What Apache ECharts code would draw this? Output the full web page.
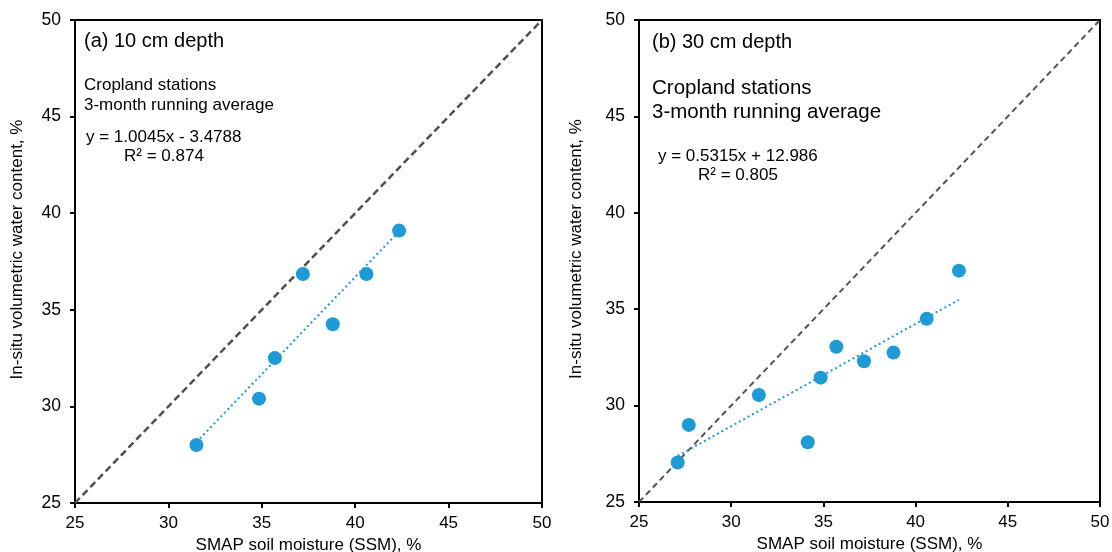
<!DOCTYPE html>
<html>
<head>
<meta charset="utf-8">
<script src="https://cdn.jsdelivr.net/npm/echarts@6/dist/echarts.min.js"></script>
<style>
html,body{margin:0;padding:0;background:#fff;}
#c{width:1112px;height:552px;}
</style>
</head>
<body>
<div id="c"></div>
<script>
// ---- data ----
const ssm10 = [31.5, 34.85, 35.7, 37.2, 38.8, 40.6, 42.35];
const vwc10 = [28.0, 30.4, 32.5, 36.85, 34.25, 36.85, 39.1];
const trendX10 = [31.5, 42.35];
const trendY10 = [28.15, 39.06];

const ssm30 = [27.1, 27.7, 31.5, 34.15, 34.85, 35.7, 37.2, 38.8, 40.6, 42.35];
const vwc30 = [27.05, 29.0, 30.55, 28.1, 31.45, 33.05, 32.3, 32.75, 34.5, 37.0];
const trendX30 = [27.1, 42.35];
const trendY30 = [27.39, 35.49];

const oneToOne = [25, 50];
const tickValues = [25, 30, 35, 40, 45, 50];

const xTitle = 'SMAP soil moisture (SSM), %';
const yTitle = 'In-situ volumetric water content, %';
const labelsA = ['(a) 10 cm depth', 'Cropland stations', '3-month running average', 'y = 1.0045x - 3.4788', 'R² = 0.874'];
const labelsB = ['(b) 30 cm depth', 'Cropland stations', '3-month running average', 'y = 0.5315x + 12.986', 'R² = 0.805'];

const FONT = '"Liberation Sans", Arial, Helvetica, sans-serif';
const BLUE = '#1E9AD6';
const zip = (a, b) => a.map((v, i) => [v, b[i]]);

function xAxisFor(idx) {
  return {
    gridIndex: idx, type: 'value', min: tickValues[0], max: tickValues[tickValues.length - 1], interval: 5,
    name: xTitle, nameLocation: 'middle', nameGap: 32,
    nameTextStyle: {fontFamily: FONT, fontSize: 17, color: '#000'},
    axisLine: {show: true, onZero: false, lineStyle: {color: '#000', width: 2}},
    axisTick: {show: true, inside: false, length: 5, lineStyle: {color: '#000', width: 2}},
    axisLabel: {fontFamily: FONT, fontSize: 17, color: '#000', margin: 12},
    splitLine: {show: false}
  };
}
function yAxisFor(idx, gap) {
  return {
    gridIndex: idx, type: 'value', min: tickValues[0], max: tickValues[tickValues.length - 1], interval: 5,
    name: yTitle, nameLocation: 'middle', nameGap: gap, nameRotate: 90,
    nameTextStyle: {fontFamily: FONT, fontSize: 17, color: '#000', padding: [0, 0, 0, 24]},
    axisLine: {show: true, onZero: false, lineStyle: {color: '#000', width: 2}},
    axisTick: {show: true, inside: false, length: 5, lineStyle: {color: '#000', width: 2}},
    axisLabel: {fontFamily: FONT, fontSize: 17.5, color: '#000', margin: 14},
    splitLine: {show: false}
  };
}

function textEl(x, y, str, size) {
  return {type: 'text', x: x, y: y, silent: true,
    style: {text: str, fontFamily: FONT, fontSize: size, fill: '#000', verticalAlign: 'middle', align: 'left'}};
}

const chart = echarts.init(document.getElementById('c'), null, {renderer: 'canvas'});
chart.setOption({
  animation: false,
  backgroundColor: '#fff',
  grid: [
    {left: 75, top: 20, width: 467, height: 483, show: true, borderColor: '#000', borderWidth: 2,
      backgroundColor: 'transparent', containLabel: false, outerBoundsMode: 'none'},
    {left: 639, top: 20, width: 461, height: 482, show: true, borderColor: '#000', borderWidth: 2,
      backgroundColor: 'transparent', containLabel: false, outerBoundsMode: 'none'}
  ],
  xAxis: [xAxisFor(0), xAxisFor(1)],
  yAxis: [yAxisFor(0, 49), yAxisFor(1, 54)],
  series: [
    {type: 'line', xAxisIndex: 0, yAxisIndex: 0, data: zip(oneToOne, oneToOne), symbol: 'none',
      lineStyle: {color: '#505050', width: 2.5, type: [7, 4]}, z: 2},
    {type: 'line', xAxisIndex: 0, yAxisIndex: 0, data: zip(trendX10, trendY10), symbol: 'none',
      lineStyle: {color: BLUE, width: 2, type: [2, 3]}, z: 3},
    {type: 'scatter', xAxisIndex: 0, yAxisIndex: 0, data: zip(ssm10, vwc10), symbol: 'circle', symbolSize: 14,
      itemStyle: {color: BLUE, opacity: 1}, z: 4},
    {type: 'line', xAxisIndex: 1, yAxisIndex: 1, data: zip(oneToOne, oneToOne), symbol: 'none',
      lineStyle: {color: '#555', width: 2, type: [6, 4]}, z: 2},
    {type: 'line', xAxisIndex: 1, yAxisIndex: 1, data: zip(trendX30, trendY30), symbol: 'none',
      lineStyle: {color: BLUE, width: 2, type: [2, 3]}, z: 3},
    {type: 'scatter', xAxisIndex: 1, yAxisIndex: 1, data: zip(ssm30, vwc30), symbol: 'circle', symbolSize: 14,
      itemStyle: {color: BLUE, opacity: 1}, z: 4}
  ],
  graphic: [
    textEl(84, 41, labelsA[0], 20),
    textEl(84, 85, labelsA[1], 17),
    textEl(84, 105, labelsA[2], 17),
    textEl(86, 137, labelsA[3], 17),
    textEl(124, 156, labelsA[4], 17),
    textEl(652, 42, labelsB[0], 20),
    textEl(652, 88, labelsB[1], 20.5),
    textEl(652, 112, labelsB[2], 20.5),
    textEl(658, 156, labelsB[3], 17),
    textEl(698, 175, labelsB[4], 17)
  ]
});
</script>
</body>
</html>
